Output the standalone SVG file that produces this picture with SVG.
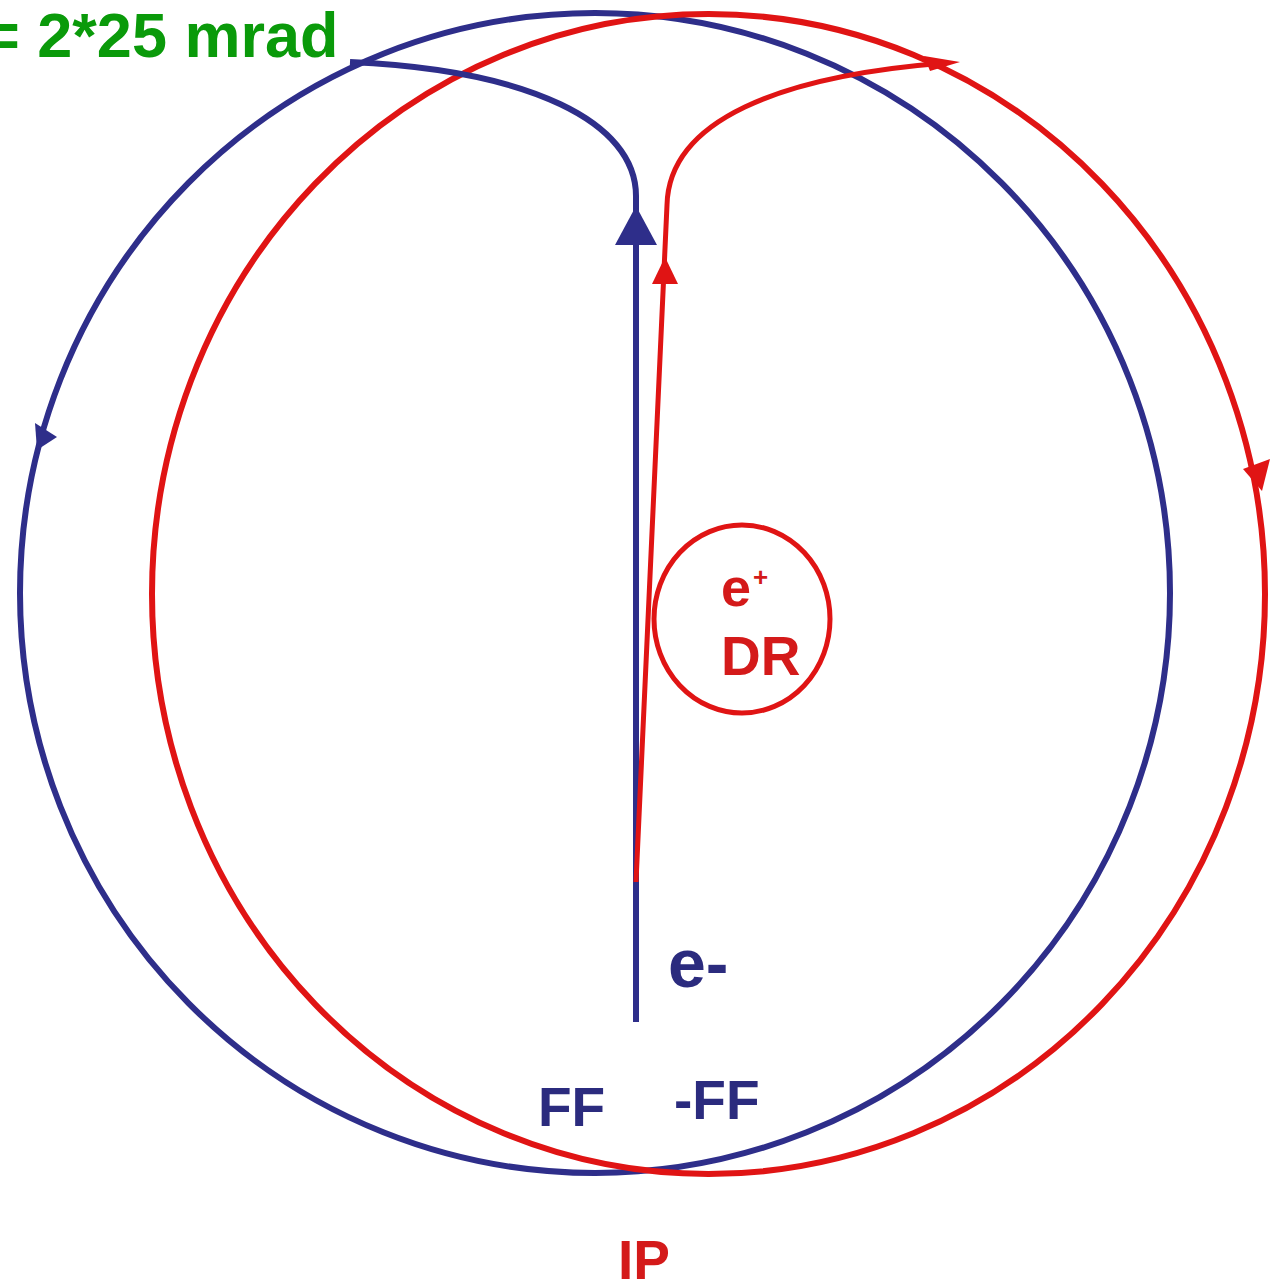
<svg xmlns="http://www.w3.org/2000/svg" width="1284" height="1284" viewBox="0 0 1284 1284">
<style>
.b{fill:none;stroke:#2e2e8a;stroke-width:6}
.r{fill:none;stroke:#e01414;stroke-width:6}
.bf{fill:#2e2e8a}
.rf{fill:#e01414}
text{font-family:"Liberation Sans",Arial,sans-serif;font-weight:bold}
.bt{fill:#2b2b7e}
.rt{fill:#d41a1a}
</style>
<rect width="1284" height="1284" fill="#ffffff"/>
<g id="connectors">
<g id="blue-ring"><ellipse class="b" cx="595" cy="593" rx="575" ry="580"/></g>
<g id="red-ring"><ellipse class="r" cx="708.5" cy="594" rx="556.5" ry="580"/></g>
<g id="blue-beam"><path class="b" d="M636,1022 L636,196 C636,122 530,70 350,62"/><polygon class="bf" points="636,206 615,245 657,245"/></g>
<g id="red-beam"><path class="r" style="stroke-width:5" d="M636,882 L667,205 C669,120 780,76 945,63"/><polygon class="rf" points="665,257 652,284 678,284"/><polygon class="rf" points="924,56 960,62 930,71"/></g>
<polygon class="bf" points="37,450 35,423 57,437"/>
<polygon class="rf" points="1262,491 1243,469 1270,459"/>
</g>
<g id="dr"><ellipse class="r" style="stroke-width:5" cx="742" cy="619" rx="88" ry="94"/>
<text class="rt" x="721" y="606" font-size="54">e</text>
<text class="rt" x="753" y="586" font-size="26">+</text>
<text class="rt" x="721" y="675" font-size="55">DR</text></g>
<g id="labels">
<text x="-17" y="57" font-size="63" fill="#0a9a0a">= 2*25 mrad</text>
<text class="bt" x="668" y="987" font-size="68">e-</text>
<text class="bt" x="538" y="1126" font-size="55">FF</text>
<text class="bt" x="674" y="1119" font-size="55">-FF</text>
<text class="rt" x="618" y="1279" font-size="55">IP</text>
</g>
</svg>
